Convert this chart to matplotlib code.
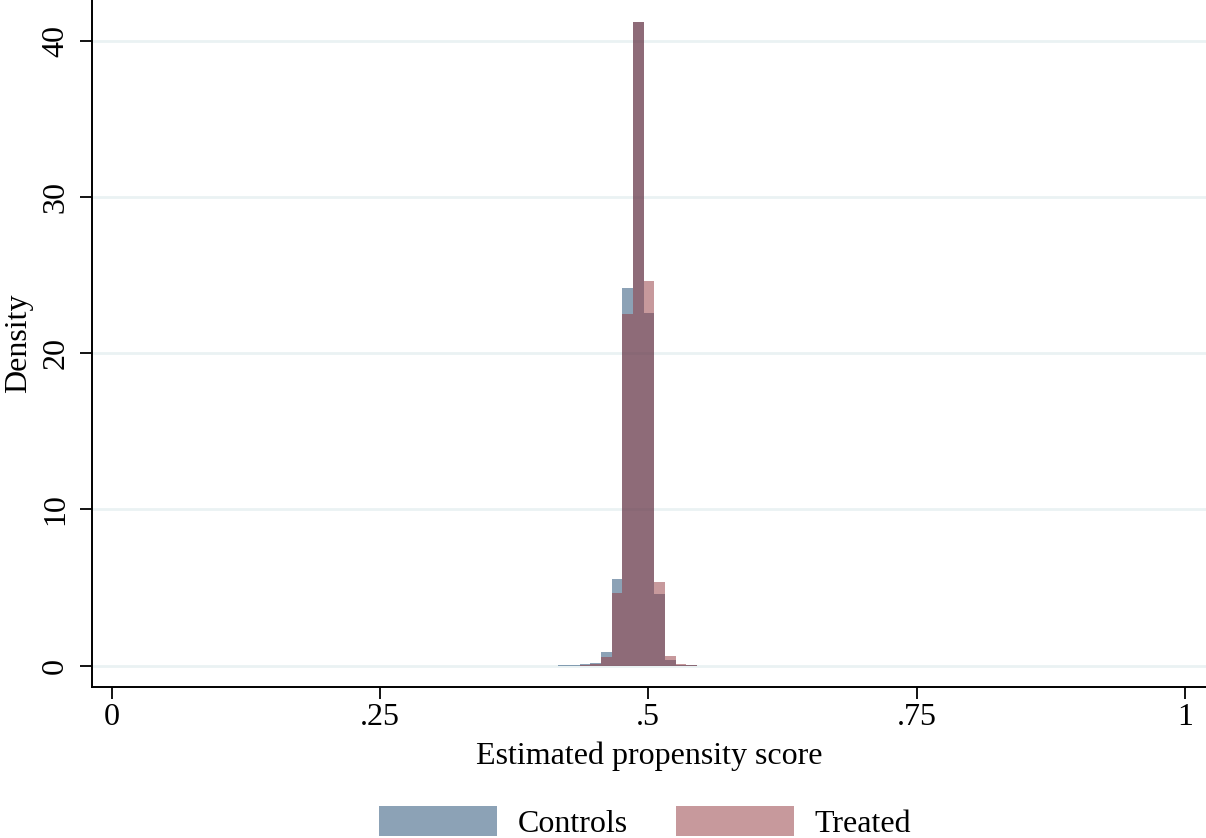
import numpy as np
import matplotlib
matplotlib.use("Agg")
import matplotlib.pyplot as plt

# Histogram of estimated propensity scores by treatment group
bin_start = 0.4162
bin_width = 0.00993
controls_density = [0.02, 0.05, 0.09, 0.20, 0.86, 5.57, 24.2, 41.2, 22.6, 4.59, 0.38, 0.05, 0.02]
treated_density = [0.00, 0.01, 0.03, 0.10, 0.58, 4.65, 22.5, 41.2, 24.6, 5.33, 0.60, 0.10, 0.04]

x_ticks = [0, 0.25, 0.5, 0.75, 1]
x_tick_labels = ["0", ".25", ".5", ".75", "1"]
y_ticks = [0, 10, 20, 30, 40]
y_tick_labels = ["0", "10", "20", "30", "40"]

navy = (26 / 255, 71 / 255, 111 / 255)
cranberry = (144 / 255, 53 / 255, 59 / 255)
grid_col = "#eaf2f3"

plt.rcParams["font.family"] = ["Liberation Serif", "DejaVu Serif"]

fig = plt.figure(figsize=(12.06, 8.38), dpi=100)
ax = fig.add_axes([0.0760, 0.1802, 0.9240, 0.8198])

edges = bin_start + bin_width * np.arange(len(controls_density))
ax.bar(edges, controls_density, width=bin_width, align="edge",
       color=navy, alpha=0.5, linewidth=0, label="Controls", zorder=3)
ax.bar(edges, treated_density, width=bin_width, align="edge",
       color=cranberry, alpha=0.5, linewidth=0, label="Treated", zorder=4)

ax.set_xlim(-0.0186, 1.0196)
ax.set_ylim(-1.364, 42.62)

for yv in y_ticks:
    ax.axhline(yv, color=grid_col, linewidth=2.0, zorder=1)

ax.set_xticks(x_ticks)
ax.set_xticklabels(x_tick_labels)
ax.set_yticks(y_ticks)
ax.set_yticklabels(y_tick_labels)

ax.tick_params(axis="x", direction="out", length=8.5, width=1.3, pad=3,
               color="black", labelsize=23)
ax.tick_params(axis="y", direction="out", length=8.5, width=1.3, pad=7,
               color="black", labelsize=23, labelrotation=90)
for lbl in ax.get_yticklabels():
    lbl.set_verticalalignment("center")

for side in ["top", "right"]:
    ax.spines[side].set_visible(False)
for side in ["left", "bottom"]:
    ax.spines[side].set_linewidth(1.4)

ax.set_xlabel("Estimated propensity score", fontsize=23, labelpad=7)
ax.set_ylabel("Density", fontsize=23, labelpad=6)

leg = ax.legend(loc="center", bbox_to_anchor=(0.4964, -0.197), ncol=2, frameon=False,
                fontsize=23, handlelength=3.7, handleheight=1.1,
                handletextpad=0.65, columnspacing=1.5)

fig.savefig("out.png", dpi=100, facecolor="white")
